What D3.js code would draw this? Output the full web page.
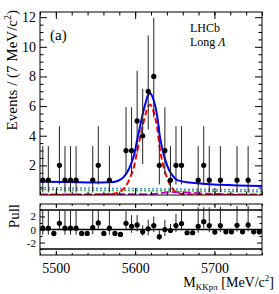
<!DOCTYPE html>
<html>
<head>
<meta charset="utf-8">
<script src="https://cdn.jsdelivr.net/npm/d3@7"></script>
<style>
  body { margin: 0; background: #fff; }
  text { font-family: "Liberation Serif", "Times New Roman", serif; fill: #000; }
</style>
</head>
<body>
<div id="chart"></div>
<script>
// binning of the data histogram (7 MeV bins)
const binLo = 5480, binW = 7;
const counts = [1, 1, 0, 2, 1, 1, 1, 0, 0, 1, 2, 0, 1, 0, 0, 3, 3, 5, 4, 7,
                8, 2, 3, 1, 2, 2, 0, 0, 1, 2, 1, 0, 1, 0, 0, 1, 0, 1, 0, 0];
// error bar ends (null = no bar drawn)
const errLow = [0.17, 0.17, null, 0.71, 0.17, 0.17, 0.17, null, null, 0.17, 0.71, null, 0.17, null, null, 1.37, 1.37, 2.84, 2.09, 4.42,
                5.24, 0.71, 1.37, 0.17, 0.71, 0.71, null, null, 0.17, 0.71, 0.17, null, 0.17, null, null, 0.17, null, 0.17, null, null];
const errHigh = [3.3, 3.3, null, 4.64, 3.3, 3.3, 3.3, null, null, 3.3, 4.64, null, 3.3, null, null, 5.92, 5.92, 8.38, 7.16, 10.77,
                 11.95, 4.64, 5.92, 3.3, 4.64, 4.64, null, null, 3.3, 4.64, 3.3, null, 3.3, null, null, 3.3, null, 3.3, null, null];

// pulls per bin, with bar ends
const pulls = [0.2, 0.2, -0.6, 0.95, 0.2, 0.2, 0.2, -0.6, -0.6, 0.3, 1.0, -0.6, 0.2, -0.6, -0.75, 0.95, 0.5, 0.7, -0.35, 0.1,
               0.6, -1.1, 0.0, -0.15, 0.6, 0.9, -0.5, -0.5, 0.5, 1.2, 0.6, -0.4, 0.6, -0.35, -0.35, 0.65, -0.35, 0.7, -0.35, -0.35];
const pullHigh = [2.9, 2.9, -0.25, 2.9, 2.9, 2.9, 2.9, -0.25, -0.25, 3.0, 3.0, -0.25, 3.0, -0.25, -0.4, 2.8, 2.2, 2.2, 0.65, 1.5,
                  2.0, -0.1, 1.5, 0.85, 2.4, 3.0, -0.15, -0.15, 3.4, 3.4, 3.4, -0.05, 3.5, 0.0, 0.0, 3.6, 0.0, 3.6, 0.0, 0.0];
const pullLow = [-0.8, -0.8, -0.95, -0.05, -0.8, -0.8, -0.8, -0.95, -0.95, -0.7, 0.0, -0.95, -0.8, -0.95, -1.1, -0.05, -0.5, -0.3, -0.95, -0.9,
                 -0.4, -1.6, -1.0, -0.5, -0.4, -0.1, -0.85, -0.85, -0.5, 0.2, -0.4, -0.75, -0.4, -0.7, -0.7, -0.35, -0.7, -0.3, -0.7, -0.7];

// fitted curves, sampled off the plot
const sigMass = [5480, 5530, 5556, 5568, 5578, 5586, 5591, 5595, 5599, 5602, 5606, 5610, 5614, 5616, 5619,
                 5621, 5624, 5628, 5631, 5635, 5639, 5643, 5647, 5654, 5669, 5707, 5760];
const sigVals = [0.005, 0.01, 0.03, 0.05, 0.15, 0.45, 0.85, 1.35, 2.0, 2.8, 3.8, 4.8, 5.6, 5.95, 6.1,
                 5.95, 5.5, 4.45, 3.2, 2.1, 1.35, 0.8, 0.45, 0.12, 0.03, 0.01, 0.005];
const totVals = [0.905, 0.856, 0.849, 0.856, 0.945, 1.236, 1.631, 2.127, 2.777, 3.576, 4.575, 5.573, 6.371, 6.721, 6.871,
                 6.724, 6.286, 5.251, 4.018, 2.944, 2.205, 1.665, 1.326, 0.984, 0.837, 0.687, 0.605];
const bkgMass = [5480, 5620, 5760];
const bkgBlue = [0.50, 0.42, 0.34];
const bkgGreen = [0.36, 0.29, 0.22];
const peakMass = [5480, 5600, 5620, 5635, 5648, 5660, 5669, 5690, 5707, 5730, 5760];
const peakVals = [0.04, 0.045, 0.06, 0.15, 0.2, 0.18, 0.15, 0.09, 0.06, 0.04, 0.04];

const xMajor = [5500, 5600, 5700];
const xMinor = d3.range(5480, 5761, 20);
const yMajor = [2, 4, 6, 8, 10, 12];
const pullMajor = [-2, 0, 2];

const width = 279, height = 294;
const L = 40, R = 262;
const mainTop = 12, mainBot = 195, pullTop = 204, pullBot = 255;

const svg = d3.select('#chart').append('svg')
  .attr('width', width).attr('height', height);

const x = d3.scaleLinear().domain([5480, 5760]).range([L, R]);
const y = d3.scaleLinear().domain([0, 12.35]).range([mainBot, mainTop]);
const yp = d3.scaleLinear().domain([-3.9, 3.9]).range([pullBot, pullTop]);

const binX = i => x(binLo + binW * (i + 0.5));
const fmt = d => (d < 0 ? '-' + Math.abs(d) : String(d));

// ticks on all four sides, pointing inwards
function frameAxes(g, yScale, top, bot, yMaj, yMin, yLen, xLen, labelX, ySize) {
  const clean = s => s.select('.domain').remove();
  const left = g.append('g').attr('transform', `translate(${L},0)`)
    .call(d3.axisLeft(yScale).tickValues(yMaj).tickSize(-yLen).tickPadding(4).tickFormat(fmt)).call(clean);
  g.append('g').attr('transform', `translate(${L},0)`)
    .call(d3.axisLeft(yScale).tickValues(yMin).tickSize(-yLen / 2).tickFormat('')).call(clean);
  g.append('g').attr('transform', `translate(${R},0)`)
    .call(d3.axisRight(yScale).tickValues(yMaj).tickSize(-yLen).tickFormat('')).call(clean);
  g.append('g').attr('transform', `translate(${R},0)`)
    .call(d3.axisRight(yScale).tickValues(yMin).tickSize(-yLen / 2).tickFormat('')).call(clean);
  g.append('g').attr('transform', `translate(0,${top})`)
    .call(d3.axisTop(x).tickValues(xMajor).tickSize(-xLen).tickFormat('')).call(clean);
  g.append('g').attr('transform', `translate(0,${top})`)
    .call(d3.axisTop(x).tickValues(xMinor).tickSize(-xLen / 2).tickFormat('')).call(clean);
  g.append('g').attr('transform', `translate(0,${bot})`)
    .call(d3.axisBottom(x).tickValues(xMajor).tickSize(-xLen).tickPadding(8)
      .tickFormat(labelX ? d3.format('d') : '')).call(clean);
  g.append('g').attr('transform', `translate(0,${bot})`)
    .call(d3.axisBottom(x).tickValues(xMinor).tickSize(-xLen / 2).tickFormat('')).call(clean);
  g.selectAll('text').attr('font-size', 14).attr('font-family', '"Liberation Serif", serif');
  left.selectAll('text').attr('font-size', ySize);
  g.selectAll('line').attr('stroke', '#000');
  g.append('rect').attr('x', L).attr('y', top).attr('width', R - L).attr('height', bot - top)
    .attr('fill', 'none').attr('stroke', '#000').attr('stroke-width', 1);
}

// ---------- main panel ----------
svg.append('clipPath').attr('id', 'clipMain').append('rect')
  .attr('x', L).attr('y', mainTop).attr('width', R - L).attr('height', mainBot - mainTop);
const curves = svg.append('g').attr('clip-path', 'url(#clipMain)');

const line = (ms, vs) => d3.line().x((d, i) => x(ms[i])).y(d => y(d)).curve(d3.curveMonotoneX)(vs);

curves.append('path').attr('d', line(peakMass, peakVals))
  .attr('fill', 'none').attr('stroke', '#cc00cc').attr('stroke-width', 2).attr('stroke-dasharray', '8,3');
curves.append('path').attr('d', line(bkgMass, bkgGreen))
  .attr('fill', 'none').attr('stroke', '#33bb33').attr('stroke-width', 1.5).attr('stroke-dasharray', '2,2');
curves.append('path').attr('d', line(bkgMass, bkgBlue))
  .attr('fill', 'none').attr('stroke', '#4a8cff').attr('stroke-width', 1.5).attr('stroke-dasharray', '2,2');
curves.append('path').attr('d', line(sigMass, sigVals))
  .attr('fill', 'none').attr('stroke', '#ff0000').attr('stroke-width', 2).attr('stroke-dasharray', '6,3');
curves.append('path').attr('d', line(sigMass, totVals))
  .attr('fill', 'none').attr('stroke', '#0000ff').attr('stroke-width', 2);

const mainG = svg.append('g');
frameAxes(mainG, y, mainTop, mainBot,
  yMajor, d3.range(0.5, 12.3, 0.5).filter(v => v % 2 !== 0), 7, 7, false, 14);

const pts = svg.append('g');
counts.forEach((c, i) => {
  if (c === 0) return;
  pts.append('line').attr('x1', binX(i)).attr('x2', binX(i))
    .attr('y1', y(errLow[i])).attr('y2', y(errHigh[i]))
    .attr('stroke', '#222').attr('stroke-width', 1);
  pts.append('circle').attr('cx', binX(i)).attr('cy', y(c)).attr('r', 2.6).attr('fill', '#000');
});

// ---------- pull panel ----------
const pullG = svg.append('g');
[-3, 3].forEach(v => {
  pullG.append('line').attr('x1', L).attr('x2', R).attr('y1', yp(v)).attr('y2', yp(v))
    .attr('stroke', '#ff2020').attr('stroke-width', 1.5);
});
pullG.append('line').attr('x1', L).attr('x2', R).attr('y1', yp(0)).attr('y2', yp(0))
  .attr('stroke', '#000').attr('stroke-width', 1.5);

frameAxes(pullG, yp, pullTop, pullBot, pullMajor, [-3, -1, 1, 3], 5, 4, true, 11);

pulls.forEach((p, i) => {
  pullG.append('line').attr('x1', binX(i)).attr('x2', binX(i))
    .attr('y1', yp(Math.max(pullLow[i], -3.9))).attr('y2', yp(Math.min(pullHigh[i], 3.9)))
    .attr('stroke', '#222').attr('stroke-width', 1);
  pullG.append('circle').attr('cx', binX(i)).attr('cy', yp(p)).attr('r', 2.6).attr('fill', '#000');
});

// ---------- labels ----------
const yTitle = svg.append('text')
  .attr('transform', `translate(17,10) rotate(-90)`)
  .attr('text-anchor', 'end').attr('font-size', 15);
yTitle.append('tspan').text('Events / (7 MeV/');
yTitle.append('tspan').text('c');
yTitle.append('tspan').attr('font-size', 10).attr('dy', -6).text('2');
yTitle.append('tspan').attr('dy', 6).text(')');

svg.append('text')
  .attr('transform', `translate(19,204) rotate(-90)`)
  .attr('text-anchor', 'end').attr('font-size', 15).text('Pull');

const xTitle = svg.append('text').attr('x', 274).attr('y', 287)
  .attr('text-anchor', 'end').attr('font-size', 14);
xTitle.append('tspan').text('M');
xTitle.append('tspan').attr('font-size', 9).attr('dy', 3).text('KKpπ');
xTitle.append('tspan').attr('dy', -3).text(' [MeV/c');
xTitle.append('tspan').attr('font-size', 9).attr('dy', -6).text('2');
xTitle.append('tspan').attr('dy', 6).text(']');

svg.append('text').attr('x', 50).attr('y', 40).attr('font-size', 15).text('(a)');
svg.append('text').attr('x', 190).attr('y', 32).attr('font-size', 12).text('LHCb');
const lam = svg.append('text').attr('x', 190).attr('y', 46).attr('font-size', 12);
lam.append('tspan').text('Long ');
lam.append('tspan').attr('font-style', 'italic').text('Λ');
</script>
</body>
</html>
